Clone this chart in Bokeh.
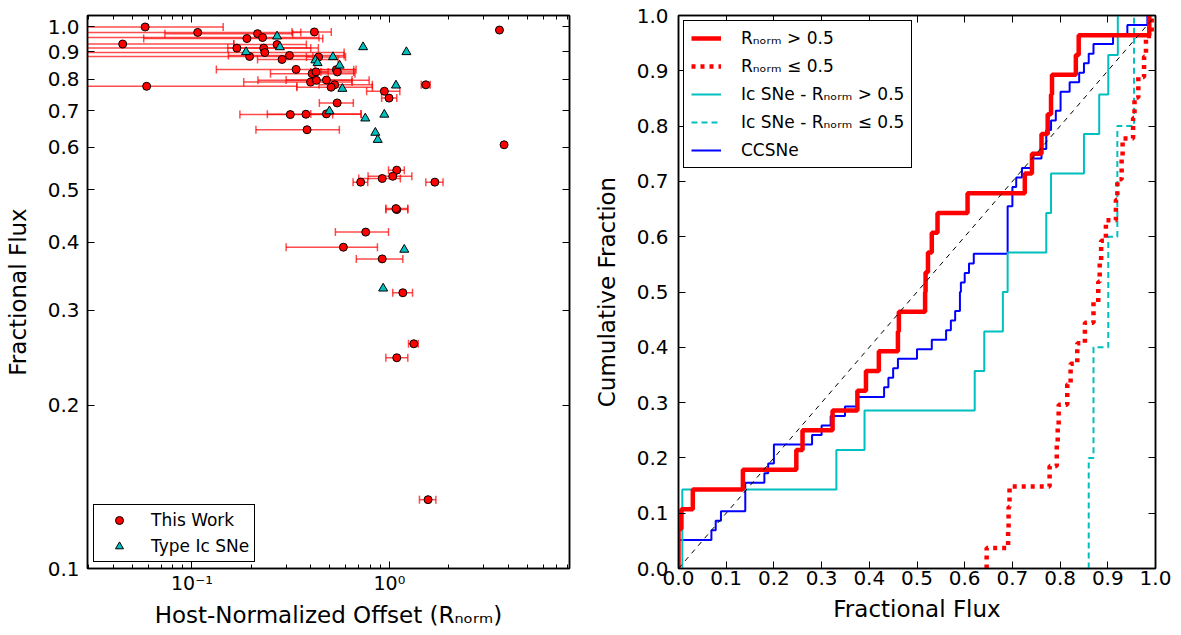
from bokeh.plotting import figure
from bokeh.models import (ColumnDataSource, Whisker, TeeHead, FixedTicker,
                          CustomJSTickFormatter, LogAxis, LinearAxis, Legend,
                          LegendItem, Range1d)
from bokeh.layouts import row
from bokeh.embed import file_html
from bokeh.resources import INLINE

# ---------------- left panel data: "This Work" ----------------
tw_r = [0.058, 0.107, 0.215, 0.417, 0.19, 0.228, 0.0446, 0.27, 0.169, 0.231,
        0.234, 0.196, 0.312, 0.286, 0.438, 0.337, 0.406, 0.425, 0.539, 0.545,
        0.399, 0.427, 0.48, 0.528, 0.507, 0.059, 1.53, 0.943, 0.996, 0.544,
        0.315, 0.378, 0.48, 0.383, 3.61, 3.81, 1.09, 1.04, 0.92, 0.716,
        1.70, 1.09, 1.08, 0.759, 0.585, 0.92, 1.17, 1.33, 1.09, 1.57]
tw_flux = [1.0, 0.977, 0.972, 0.979, 0.952, 0.956, 0.93, 0.928, 0.914, 0.914,
           0.897, 0.882, 0.886, 0.871, 0.88, 0.835, 0.82, 0.826, 0.834, 0.826,
           0.791, 0.797, 0.798, 0.782, 0.774, 0.777, 0.782, 0.761, 0.739, 0.724,
           0.689, 0.69, 0.691, 0.646, 0.987, 0.606, 0.544, 0.530, 0.525, 0.517,
           0.517, 0.46, 0.462, 0.418, 0.392, 0.373, 0.323, 0.26, 0.245, 0.134]
tw_r_lo = [0.02, 0.02, 0.073, 0.321, 0.057, 0.02, 0.02, 0.163, 0.02, 0.152,
           0.02, 0.02, 0.153, 0.215, 0.38, 0.133, 0.25, 0.40, 0.42, 0.45,
           0.183, 0.216, 0.30, 0.44, 0.34, 0.02, 1.45, 0.767, 0.914, 0.442,
           0.175, 0.241, 0.40, 0.211, None, None, 0.99, 0.78, 0.70, 0.655,
           1.53, 0.96, 0.96, 0.533, 0.30, 0.68, 1.04, 1.25, 0.96, 1.42]
tw_r_hi = [0.144, 0.356, 0.324, 0.508, 0.46, 0.44, 0.163, 0.38, 0.437, 0.40,
           0.59, 0.41, 0.59, 0.55, 0.60, 0.678, 0.67, 0.49, 0.66, 0.66,
           0.647, 0.79, 0.647, 0.82, 0.82, 0.34, 1.61, 1.13, 1.09, 0.657,
           0.516, 0.72, 0.718, 0.558, None, None, 1.19, 1.30, 1.137, 0.777,
           1.87, 1.24, 1.24, 0.99, 0.87, 1.17, 1.31, 1.40, 1.24, 1.72]

# ---------------- left panel data: Type Ic SNe ----------------
ic_r = [0.27, 0.279, 0.188, 0.736, 1.22, 0.518, 0.422, 0.433, 0.56, 0.578,
        1.08, 0.497, 0.755, 0.943, 0.849, 0.873, 1.19, 0.93]
ic_flux = [0.961, 0.918, 0.899, 0.918, 0.899, 0.88, 0.868, 0.858, 0.849, 0.769,
           0.78, 0.699, 0.678, 0.689, 0.638, 0.619, 0.388, 0.329]

# ---------------- right panel data (fractional flux per sample) ----------------
flux_hi = [0.0, 0.0, 0.006, 0.03, 0.135, 0.247, 0.26, 0.323, 0.375, 0.393,
           0.42, 0.460, 0.462, 0.517, 0.518, 0.523, 0.531, 0.543, 0.606, 0.726,
           0.741, 0.761, 0.774, 0.781, 0.783, 0.833, 0.839, 0.987]
flux_lo = [0.646, 0.691, 0.692, 0.694, 0.778, 0.793, 0.795, 0.797, 0.815, 0.822,
           0.836, 0.852, 0.870, 0.880, 0.883, 0.886, 0.896, 0.917, 0.920, 0.929,
           0.931, 0.953, 0.956, 0.964, 0.976, 0.980, 0.992]
ic_flux_hi = [0.008, 0.008, 0.331, 0.39, 0.621, 0.641, 0.68, 0.69, 0.771, 0.781,
              0.85, 0.882, 0.901, 0.921]
ic_flux_lo = [0.86, 0.87, 0.901, 0.92, 0.955]
cc_flux = [0.0, 0.0, 0.0, 0.069, 0.078, 0.089, 0.14, 0.14, 0.14, 0.18,
           0.188, 0.2, 0.2, 0.28, 0.30, 0.319, 0.349, 0.375, 0.431, 0.44,
           0.45, 0.46, 0.50, 0.531, 0.561, 0.571, 0.58, 0.59, 0.59, 0.592,
           0.60, 0.609, 0.619, 0.69, 0.69, 0.69, 0.69, 0.69, 0.70, 0.70,
           0.708, 0.72, 0.739, 0.761, 0.771, 0.771, 0.781, 0.791, 0.801, 0.801,
           0.82, 0.84, 0.85, 0.86, 0.87, 0.911, 0.941, 0.983]
diag_x = [0.0, 1.0]
diag_y = [0.0, 1.0]

# ---------------- ticks / labels ----------------
left_x_major = [0.1, 1.0]
left_x_minor = [0.03, 0.04, 0.05, 0.06, 0.07, 0.08, 0.09,
                0.2, 0.3, 0.4, 0.5, 0.6, 0.7, 0.8, 0.9,
                2, 3, 4, 5, 6, 7, 8]
left_y_ticks = [0.1, 0.2, 0.3, 0.4, 0.5, 0.6, 0.7, 0.8, 0.9, 1.0]
right_ticks = [0.0, 0.1, 0.2, 0.3, 0.4, 0.5, 0.6, 0.7, 0.8, 0.9, 1.0]

FONT = "DejaVu Sans"
RED = "#ff0000"
CYAN = "#00bfbf"
BLUE = "#0000ff"


def style_axis(ax, size="20px", tick_in=7, minor_in=4):
    ax.major_label_text_font = FONT
    ax.major_label_text_font_size = size
    ax.major_label_text_color = "black"
    ax.axis_label_text_font = FONT
    ax.axis_label_text_font_size = "23px"
    ax.axis_label_text_font_style = "normal"
    ax.axis_label_text_color = "black"
    ax.major_tick_in = tick_in
    ax.major_tick_out = 0
    ax.minor_tick_in = minor_in
    ax.minor_tick_out = 0
    ax.major_tick_line_color = "black"
    ax.minor_tick_line_color = "black"
    ax.axis_line_color = "black"
    ax.axis_line_width = 1.5


def blank_axis(cls, ticker):
    ax = cls(ticker=ticker, formatter=CustomJSTickFormatter(code="return '';"))
    style_axis(ax)
    ax.major_label_text_font_size = "0px"
    ax.major_label_standoff = 0
    return ax


def ecdf(vals):
    v = sorted(vals)
    n = len(v)
    xs = [v[0]] + v
    ys = [0.0] + [(i + 1) / n for i in range(n)]
    return xs, ys


def style_legend(leg):
    leg.label_text_font = FONT
    leg.label_text_font_size = "17px"
    leg.label_text_color = "black"
    leg.border_line_color = "black"
    leg.border_line_width = 1
    leg.border_line_alpha = 1.0
    leg.background_fill_color = "white"
    leg.background_fill_alpha = 1.0


# ================= LEFT FIGURE =================
p1 = figure(width=590, height=635, x_axis_type="log", y_axis_type="log",
            x_range=Range1d(0.0296, 8.17), y_range=Range1d(0.1, 1.05),
            output_backend="svg", toolbar_location=None,
            min_border_left=87, min_border_right=21,
            min_border_top=15, min_border_bottom=67)
p1.xgrid.visible = False
p1.ygrid.visible = False
p1.outline_line_color = "black"
p1.outline_line_width = 1.5
p1.background_fill_color = "white"
p1.border_fill_color = "white"

lx_ticker = FixedTicker(ticks=left_x_major, minor_ticks=left_x_minor)
ly_ticker = FixedTicker(ticks=left_y_ticks, minor_ticks=[])
p1.xaxis.ticker = lx_ticker
p1.yaxis.ticker = ly_ticker
p1.xaxis.formatter = CustomJSTickFormatter(
    code="return tick < 0.5 ? '10\u207b\u00b9' : '10\u2070';")
p1.yaxis.formatter = CustomJSTickFormatter(code="return tick.toFixed(1);")
for ax in p1.xaxis:
    style_axis(ax, size="19px")
    ax.axis_label = "Host-Normalized Offset (R\u2099\u2092\u1d63\u2098)"
    ax.major_label_standoff = 3
    ax.axis_label_standoff = 5
for ax in p1.yaxis:
    style_axis(ax)
    ax.axis_label = "Fractional Flux"
    ax.major_label_standoff = 8
    ax.axis_label_standoff = 14
p1.add_layout(blank_axis(LogAxis, lx_ticker), "above")
p1.add_layout(blank_axis(LogAxis, ly_ticker), "right")

idx = [i for i in range(len(tw_r)) if tw_r_lo[i] is not None]
err_src = ColumnDataSource(data=dict(
    base=[tw_flux[i] for i in idx],
    lower=[tw_r_lo[i] for i in idx],
    upper=[tw_r_hi[i] for i in idx]))
whisk = Whisker(base="base", lower="lower", upper="upper", dimension="width",
                source=err_src, line_color=RED, line_alpha=0.7, line_width=1.5,
                lower_head=TeeHead(size=8, line_color=RED, line_alpha=0.7, line_width=1.5),
                upper_head=TeeHead(size=8, line_color=RED, line_alpha=0.7, line_width=1.5),
                level="underlay")
p1.add_layout(whisk)

r_tw = p1.scatter(tw_r, tw_flux, marker="circle", size=8, fill_color=RED,
                  line_color="black", line_width=1)
r_ic = p1.scatter(ic_r, ic_flux, marker="triangle", size=9, fill_color=CYAN,
                  line_color="black", line_width=1)

leg1 = Legend(items=[LegendItem(label="This Work", renderers=[r_tw]),
                     LegendItem(label="Type Ic SNe", renderers=[r_ic])],
              location="bottom_left")
leg1.margin = 6
leg1.padding = 5
leg1.spacing = 6
leg1.label_height = 20
leg1.glyph_height = 20
leg1.glyph_width = 40
leg1.label_standoff = 12
style_legend(leg1)
p1.add_layout(leg1)

# ================= RIGHT FIGURE =================
p2 = figure(width=591, height=635,
            x_range=Range1d(0.0, 1.0), y_range=Range1d(0.0, 1.0),
            output_backend="svg", toolbar_location=None,
            min_border_left=88, min_border_right=26,
            min_border_top=14, min_border_bottom=67)
p2.xgrid.visible = False
p2.ygrid.visible = False
p2.outline_line_color = "black"
p2.outline_line_width = 1.5
p2.background_fill_color = "white"
p2.border_fill_color = "white"

r_ticker = FixedTicker(ticks=right_ticks, minor_ticks=[])
p2.xaxis.ticker = r_ticker
p2.yaxis.ticker = r_ticker
p2.xaxis.formatter = CustomJSTickFormatter(code="return tick.toFixed(1);")
p2.yaxis.formatter = CustomJSTickFormatter(code="return tick.toFixed(1);")
for ax in p2.xaxis:
    style_axis(ax)
    ax.axis_label = "Fractional Flux"
    ax.major_label_standoff = 2
    ax.axis_label_standoff = 8
for ax in p2.yaxis:
    style_axis(ax)
    ax.axis_label = "Cumulative Fraction"
    ax.major_label_standoff = 10
    ax.axis_label_standoff = 14
p2.add_layout(blank_axis(LinearAxis, r_ticker), "above")
p2.add_layout(blank_axis(LinearAxis, r_ticker), "right")

xs, ys = ecdf(cc_flux)
r_cc = p2.step(xs, ys, mode="after", line_color=BLUE, line_width=2)
xs, ys = ecdf(ic_flux_hi)
r_ich = p2.step(xs, ys, mode="after", line_color=CYAN, line_width=2)
xs, ys = ecdf(ic_flux_lo)
r_icl = p2.step(xs, ys, mode="after", line_color=CYAN, line_width=2,
                line_dash="6 4")
xs, ys = ecdf(flux_hi)
r_hi = p2.step(xs, ys, mode="after", line_color=RED, line_width=4.5)
xs, ys = ecdf(flux_lo)
r_lo = p2.step(xs, ys, mode="after", line_color=RED, line_width=4.5,
               line_dash="4 5")
p2.line(diag_x, diag_y, line_color="black", line_width=1, line_dash="5 5")

leg2 = Legend(items=[
    LegendItem(label="R\u2099\u2092\u1d63\u2098 > 0.5", renderers=[r_hi]),
    LegendItem(label="R\u2099\u2092\u1d63\u2098 \u2264 0.5", renderers=[r_lo]),
    LegendItem(label="Ic SNe - R\u2099\u2092\u1d63\u2098 > 0.5", renderers=[r_ich]),
    LegendItem(label="Ic SNe - R\u2099\u2092\u1d63\u2098 \u2264 0.5", renderers=[r_icl]),
    LegendItem(label="CCSNe", renderers=[r_cc])],
    location="top_left")
leg2.margin = 5
leg2.padding = 7
leg2.spacing = 8
leg2.label_height = 20
leg2.glyph_height = 20
leg2.glyph_width = 30
leg2.label_standoff = 20
style_legend(leg2)
p2.add_layout(leg2)

layout = row(p1, p2)
open("out.html", "w").write(file_html(layout, INLINE))
